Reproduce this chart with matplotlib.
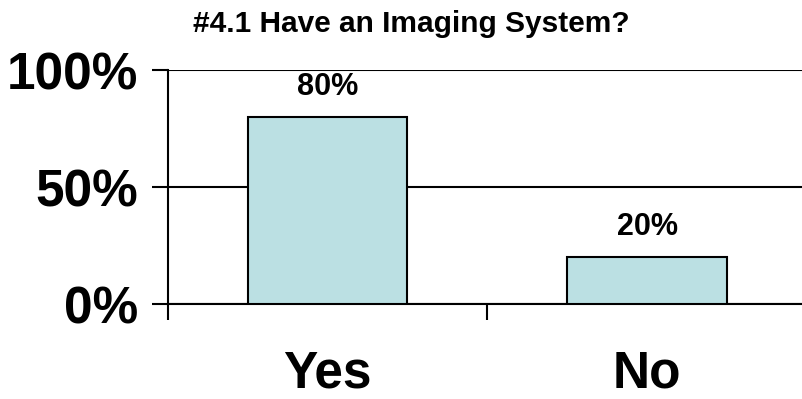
import matplotlib
matplotlib.use("Agg")
import matplotlib.pyplot as plt

categories = ["Yes", "No"]
values = [80, 20]
value_labels = ["80%", "20%"]
y_ticks = [0, 50, 100]
y_tick_labels = ["0%", "50%", "100%"]
title = "#4.1 Have an Imaging System?"

plt.rcParams["font.family"] = ["Liberation Sans", "DejaVu Sans"]
plt.rcParams["font.weight"] = "bold"

W, H = 803, 399
fig = plt.figure(figsize=(W / 100, H / 100), dpi=100)
fig.patch.set_facecolor("white")

left, right, bottom, top = 167.7, 807.0, 304.0, 70.0
ax = fig.add_axes([left / W, (H - bottom) / H, (right - left) / W, (bottom - top) / H])
ax.set_facecolor("white")

x = list(range(len(categories)))
ax.bar(x, values, width=0.5, color="#BBE0E3", edgecolor="black", linewidth=1.5, zorder=3)

for xi, v, lab in zip(x, values, value_labels):
    ax.annotate(lab, (xi, v), xytext=(0, 11), textcoords="offset points",
                ha="center", va="bottom", fontsize=22, fontweight="bold")

ax.set_xlim(-0.5, len(categories) - 0.5)
ax.set_ylim(0, 100)

ax.set_yticks(y_ticks)
ax.set_yticklabels(y_tick_labels, fontsize=37, fontweight="bold")
ax.tick_params(axis="y", direction="out", length=11.5, width=1.5, pad=10)
ax.yaxis.grid(True, color="black", linewidth=1.5, zorder=0)

ax.set_xticks(x)
ax.set_xticklabels(categories, fontsize=37, fontweight="bold")
ax.tick_params(axis="x", which="major", length=0, pad=33)
ax.set_xticks([i - 0.5 for i in range(len(categories) + 1)], minor=True)
ax.tick_params(axis="x", which="minor", direction="out", length=11.5, width=1.5)

for side in ("top", "right"):
    ax.spines[side].set_visible(False)
for side in ("left", "bottom"):
    ax.spines[side].set_linewidth(1.5)
ax.set_axisbelow(True)

fig.text(411 / W, (H - 24) / H, title, ha="center", va="center",
         fontsize=21.5, fontweight="bold")

fig.savefig("out.png", dpi=100, facecolor="white")
